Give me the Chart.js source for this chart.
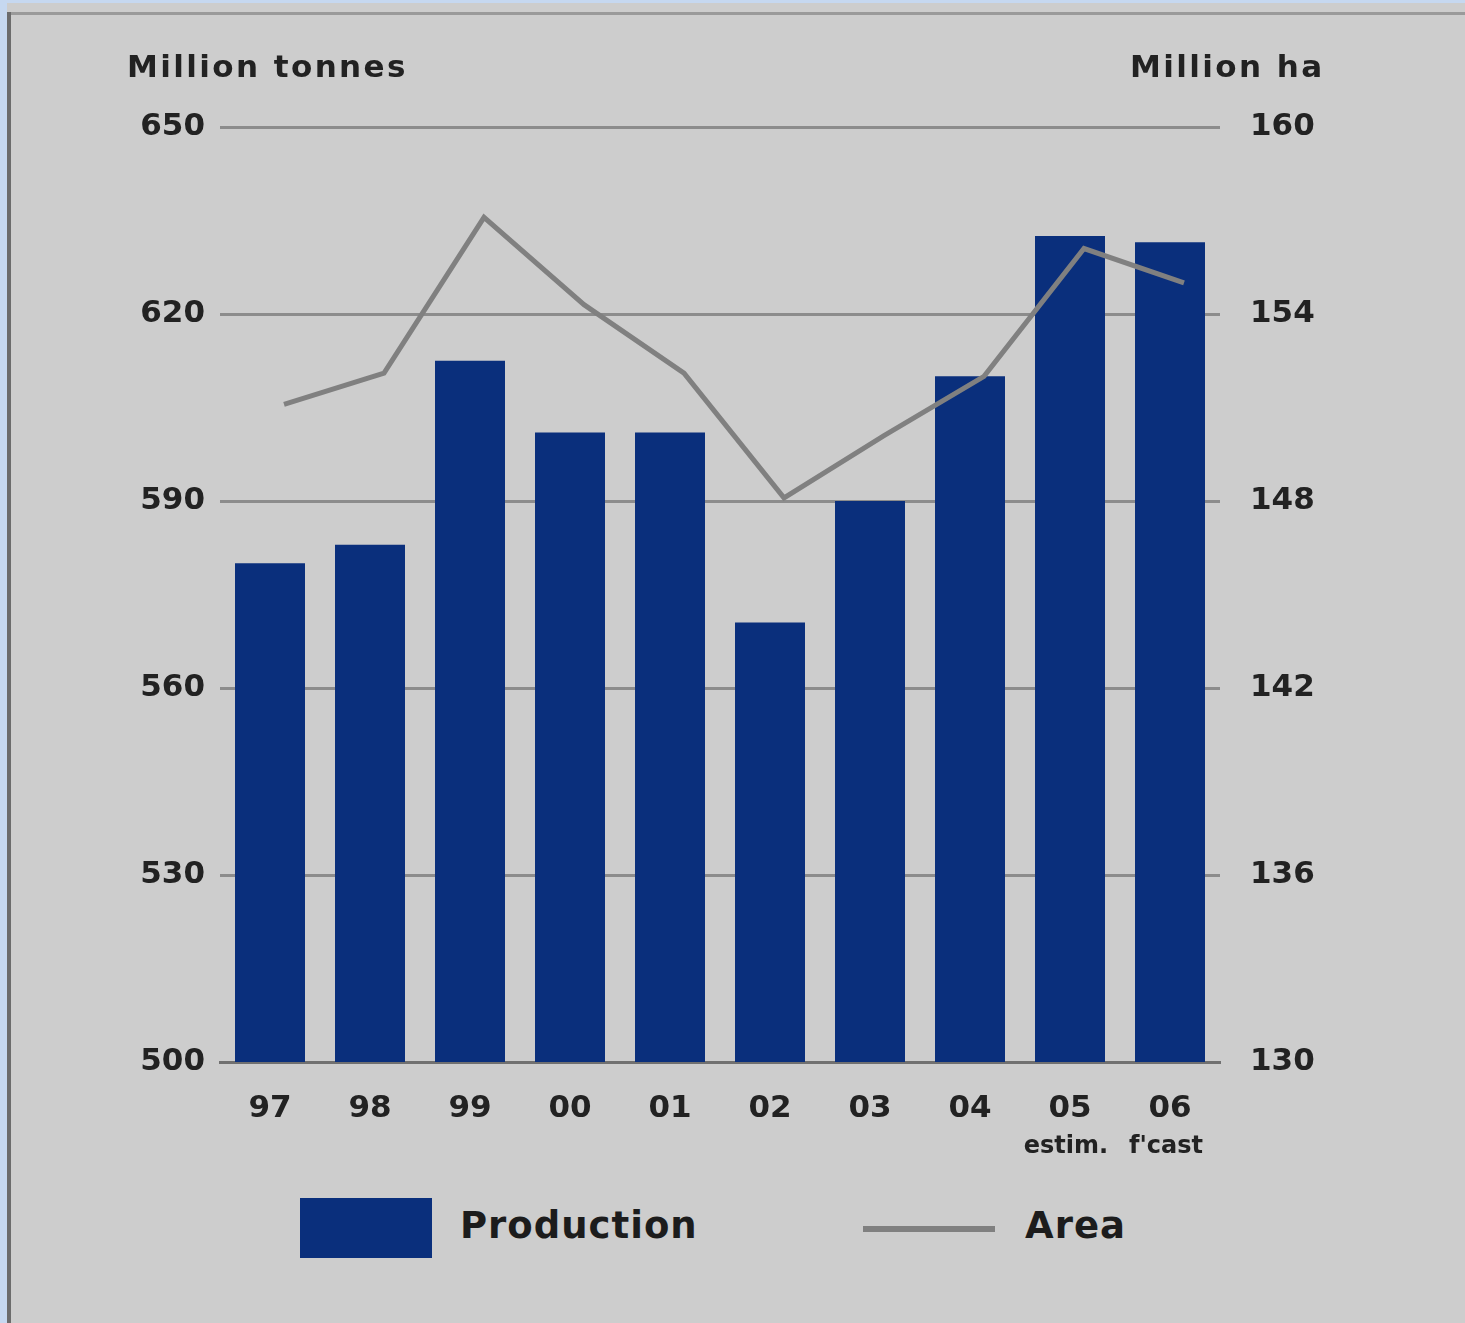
<!DOCTYPE html>
<html>
<head>
<meta charset="utf-8">
<script src="https://cdn.jsdelivr.net/npm/chart.js@4.4.1/dist/chart.umd.min.js"></script>
<style>
  html, body { margin: 0; padding: 0; }
  body {
    width: 1465px; height: 1323px; position: relative; overflow: hidden;
    background: #cdcdcd;
    font-family: "DejaVu Sans", sans-serif;
  }
  .edge-left { position: absolute; left: 0; top: 0; width: 7px; height: 1323px; background: #c6d8f0; }
  .edge-top { position: absolute; left: 0; top: 0; width: 1465px; height: 3px; background: #c6d8f0; }
  .frame-left { position: absolute; left: 7px; top: 12px; width: 4px; height: 1311px; background: #6c6c6c; }
  .frame-top { position: absolute; left: 7px; top: 12px; width: 1458px; height: 3px; background: #9a9a9a; }
  #wrap { position: absolute; left: 0; top: 0; width: 1465px; height: 1180px; }
  .axis-title {
    position: absolute; top: 48px; font-weight: bold; font-size: 31px;
    letter-spacing: 2.4px; color: #222;
  }
  .legend-box { position: absolute; left: 300px; top: 1198px; width: 132px; height: 60px; background: #0a2f7c; }
  .legend-line { position: absolute; left: 863px; top: 1226px; width: 132px; height: 6px; background: #808080; }
  .legend-text {
    position: absolute; top: 1204px; font-weight: bold; font-size: 37px;
    letter-spacing: 1px; color: #1c1c1c;
  }
</style>
</head>
<body>
<div class="edge-left"></div>
<div class="edge-top"></div>
<div class="frame-top"></div>
<div class="frame-left"></div>

<div id="wrap"><canvas id="chart" width="1465" height="1180"></canvas></div>

<div class="axis-title" style="left:127px;">Million tonnes</div>
<div class="axis-title" style="left:1130px;">Million ha</div>

<div class="legend-box"></div>
<div class="legend-text" style="left:460px;">Production</div>
<div class="legend-line"></div>
<div class="legend-text" style="left:1025px;">Area</div>

<script>
// data
const years = ["97", "98", "99", "00", "01", "02", "03", "04", "05", "06"];
const subLabels = ["", "", "", "", "", "", "", "", "estim.", "f'cast"];
const production = [580, 583, 612.5, 601, 601, 570.5, 590, 610, 632.5, 631.5];
const area = [151.1, 152.1, 157.1, 154.3, 152.1, 148.1, 150.1, 152.0, 156.1, 155.0];
const tonnesTicks = [500, 530, 560, 590, 620, 650];
const haTicks = [130, 136, 142, 148, 154, 160];

const barColor = "#0a2f7c";
const lineColor = "#808080";
const textColor = "#222";
const tickFont = { family: "DejaVu Sans", size: 31, weight: "bold" };

// second line under some year labels (estim. / f'cast)
const subLabelPlugin = {
  id: "subLabels",
  afterDraw(chart) {
    const ctx = chart.ctx;
    const xs = chart.scales.x;
    ctx.save();
    ctx.font = "bold 24px 'DejaVu Sans'";
    ctx.fillStyle = textColor;
    ctx.textAlign = "center";
    ctx.textBaseline = "middle";
    subLabels.forEach((s, i) => {
      if (!s) return;
      ctx.fillText(s, xs.getPixelForValue(i) - 4, xs.bottom - 15);
    });
    ctx.restore();
  },
};

new Chart(document.getElementById("chart"), {
  type: "bar",
  data: {
    labels: years,
    datasets: [
      {
        label: "Area",
        type: "line",
        data: area.map((v, i) => ({ x: i, y: v })),
        xAxisID: "x2",
        yAxisID: "y2",
        borderColor: lineColor,
        borderWidth: 5,
        pointRadius: 0,
        tension: 0,
        fill: false,
        order: 0,
      },
      {
        label: "Production",
        data: production,
        xAxisID: "x",
        yAxisID: "y",
        backgroundColor: barColor,
        barPercentage: 0.7,
        categoryPercentage: 1.0,
        grouped: false,
        order: 1,
      },
    ],
  },
  options: {
    responsive: false,
    animation: false,
    layout: { padding: { left: 100, right: 125, top: 127, bottom: 18 } },
    plugins: {
      legend: { display: false },
      tooltip: { enabled: false },
    },
    scales: {
      x: {
        type: "category",
        offset: true,
        grid: { display: false, drawTicks: false },
        border: { display: true, color: "#707070", width: 3 },
        ticks: { color: textColor, font: tickFont, padding: 28, maxRotation: 0 },
        afterFit: (s) => { s.height = 100; },
      },
      x2: {
        type: "linear",
        display: false,
        offset: false,
        grid: { offset: false },
        min: -0.5 - 0.14,
        max: years.length - 0.5 - 0.14,
        afterFit: (s) => { s.height = 0; },
      },
      y: {
        position: "left",
        min: tonnesTicks[0],
        max: tonnesTicks[tonnesTicks.length - 1],
        afterBuildTicks: (s) => { s.ticks = tonnesTicks.map((v) => ({ value: v })); },
        grid: { color: "#8c8c8c", lineWidth: 3, drawTicks: false },
        border: { display: false },
        ticks: { color: textColor, font: tickFont, padding: 15 },
        afterFit: (s) => { s.width = 120; },
      },
      y2: {
        position: "right",
        min: haTicks[0],
        max: haTicks[haTicks.length - 1],
        afterBuildTicks: (s) => { s.ticks = haTicks.map((v) => ({ value: v })); },
        grid: { drawOnChartArea: false, drawTicks: false },
        border: { display: false },
        ticks: { color: textColor, font: tickFont, padding: 30 },
        afterFit: (s) => { s.width = 120; },
      },
    },
  },
  plugins: [subLabelPlugin],
});
</script>
</body>
</html>
